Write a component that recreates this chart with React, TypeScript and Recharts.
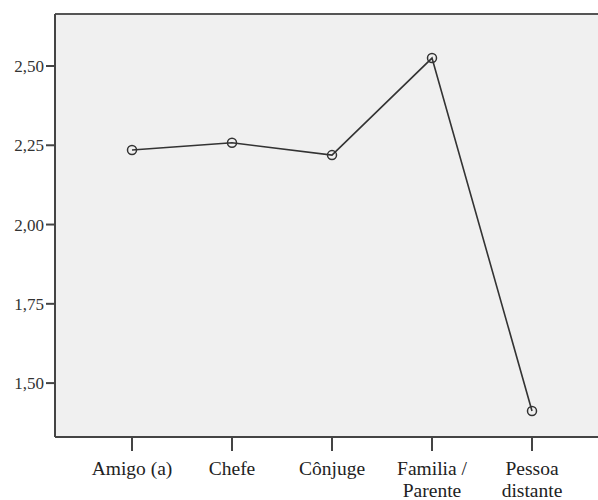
import { LineChart, Line, XAxis, YAxis, CartesianGrid } from 'recharts'

const categories = ['Amigo (a)', 'Chefe', 'Cônjuge', 'Familia /\nParente', 'Pessoa\ndistante']
const means = [2.235, 2.258, 2.219, 2.525, 1.412]
const yTicks = [1.5, 1.75, 2.0, 2.25, 2.5]

const data = categories.map((c, i) => ({ name: c, value: means[i] }))

const FONT = '"Liberation Serif", "Times New Roman", serif'

function CategoryTick(props: any) {
  const { x, y, payload } = props
  const lines = String(payload.value).split('\n')
  return (
    <text x={x} y={y} textAnchor="middle" fill="#222" fontSize={19.5} fontFamily={FONT}>
      {lines.map((l, i) => (
        <tspan key={i} x={x} y={y + 22 + i * 22}>
          {l}
        </tspan>
      ))}
    </text>
  )
}

export default function App() {
  return (
    <div style={{ position: 'absolute', left: 0, top: 0, width: 598, height: 500, overflow: 'hidden', background: '#fff' }}>
      <LineChart
        width={620}
        height={500}
        data={data}
        margin={{ top: 14, right: 11, left: 0, bottom: 0 }}
      >
        <CartesianGrid
          fill="#f0f0f0"
          stroke="#555"
          strokeWidth={2}
          horizontalPoints={[14, 437]}
          verticalPoints={[55, 609]}
        />
        <XAxis
          dataKey="name"
          height={63}
          padding={{ left: 77, right: 77 }}
          tickSize={14}
          tickMargin={2}
          stroke="#444"
          strokeWidth={2}
          tick={<CategoryTick />}
          interval={0}
        />
        <YAxis
          width={55}
          domain={[1.33, 2.664]}
          ticks={yTicks}
          allowDataOverflow
          tickSize={9}
          tickMargin={2}
          stroke="#444"
          strokeWidth={2}
          tick={{ fill: '#333', fontSize: 17, fontFamily: FONT }}
          tickFormatter={(v: number) => v.toFixed(2).replace('.', ',')}
        />
        <Line
          dataKey="value"
          stroke="#333"
          strokeWidth={1.6}
          isAnimationActive={false}
          dot={{ r: 4.5, stroke: '#333', strokeWidth: 1.5, fill: 'none' }}
        />
      </LineChart>
    </div>
  )
}
